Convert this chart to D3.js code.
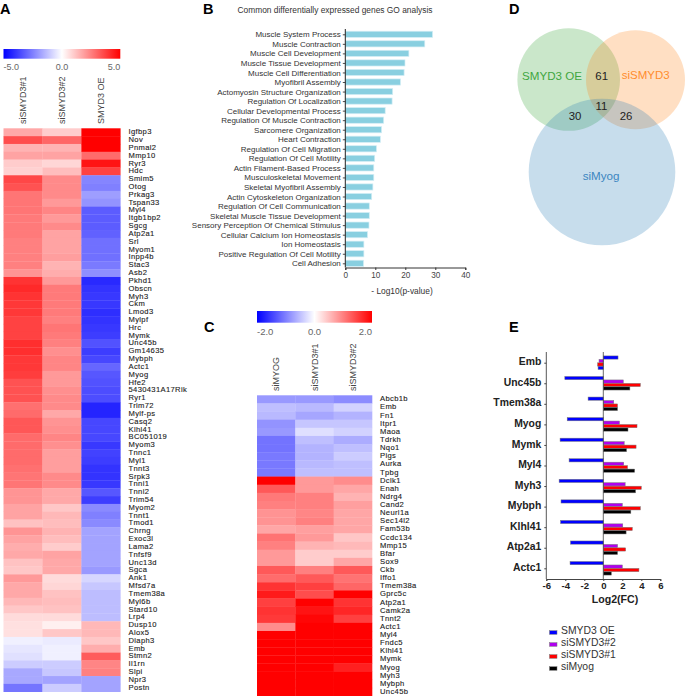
<!DOCTYPE html>
<html><head><meta charset="utf-8">
<script src="https://d3js.org/d3.v7.min.js"></script>
<style>
html,body{margin:0;padding:0;background:#fff}
svg{display:block}
text{font-family:"Liberation Sans",Arial,sans-serif}
</style></head><body>
<svg id="c" width="685" height="696"></svg>
<script>
// ---------- Panel A ----------
const aSamples = ["siSMYD3#1","siSMYD3#2","SMYD3 OE"];
const aGenes = ["Igfbp3","Nov","Pnmal2","Mmp10","Ryr3","Hdc","Smim5","Otog","Prkag3","Tspan33","Myl4","Itgb1bp2","Sgcg","Atp2a1","Srl","Myom1","Inpp4b","Stac3","Asb2","Pkhd1","Obscn","Myh3","Ckm","Lmod3","Mylpf","Hrc","Mymk","Unc45b","Gm14635","Mybph","Actc1","Myog","Hfe2","5430431A17Rik","Ryr1","Trim72","Mylf-ps","Casq2","Klhl41","BC051019","Myom3","Tnnc1","Myl1","Tnnt3","Srpk3","Tnni1","Tnni2","Trim54","Myom2","Tnnt1","Tmod1","Chrng","Exoc3l","Lama2","Tnfsf9","Unc13d","Sgca","Ank1","Mfsd7a","Tmem38a","Myl6b","Stard10","Lrp4","Dusp10","Alox5","Diaph3","Emb","Stmn2","Il1rn","Slpi","Npr3","Postn"];
const aCol1 = [1.7,3.5,1.5,1.8,1,0.9,3.6,3.4,2.7,2.7,2.7,2.6,2.6,2.6,2.5,2.5,2.5,2.5,2.1,4,4.2,4,3.9,3.9,3.7,3.7,3.7,4.1,4.1,3.9,3.9,3.8,3.4,3.4,3.4,2.8,2.9,3.3,3.3,2.9,2.9,2.9,2.9,2.8,2.7,2.7,2.1,2.1,1.8,1.8,1.2,2.1,1.8,1.6,1.7,1.2,1.1,2,1.7,1.7,1.4,1.1,0.7,0.6,0.6,-0.3,-0.5,-0.6,-1,-1.7,-1.7,-2.7];
const aCol2 = [1,3,1.5,1.8,0.8,1.3,2.3,2.3,2.3,2,2.4,2,2.3,1.8,1.8,1.8,1.9,1.5,1.6,2,2.6,2.6,2.6,2.6,2.5,2.7,2.6,2.5,2.2,2.4,2.4,2,2,2.2,2.3,2.3,1.7,2.1,2.2,2.4,2.2,1.9,1.9,1.9,2.3,2.3,1.7,1.7,1.1,1.4,1.3,1.5,1.3,1,1.8,1.7,1.7,0.7,0.8,1.2,1.3,1.2,0.7,0.3,1.1,-0.4,-0.3,-0.3,-1,-1.1,-1.8,-1];
const aCol3 = [5,5,5,2.9,4.6,3.7,-2.4,-2.5,-1.9,-2.1,-3.2,-3.2,-3.2,-3.1,-2.8,-2.8,-2.8,-2.6,-2.2,-4.2,-4,-3.9,-3.9,-4.1,-4,-3.9,-3.8,-3.4,-3.8,-3.6,-3,-3.3,-3.4,-3.5,-3.5,-4.3,-4.3,-3.6,-3.6,-3.6,-3.9,-3.7,-3.8,-4,-4,-3.9,-3.3,-3.8,-2.3,-2.5,-2.3,-1.8,-1.8,-1.8,-1.8,-1.8,-2,-0.8,-1.1,-1.3,-1.3,-1.3,-1.3,1.4,1.4,1.1,1.6,3.2,2.4,2.5,-1.8,-1.8];
const aTicks = ["-5.0","0.0","5.0"];

// ---------- Panel B ----------
const bTerms = ["Muscle System Process","Muscle Contraction","Muscle Cell Development","Muscle Tissue Development","Muscle Cell Differentiation","Myofibril Assembly","Actomyosin Structure Organization","Regulation Of Localization","Cellular Developmental Process","Regulation Of Muscle Contraction","Sarcomere Organization","Heart Contraction","Regulation Of Cell Migration","Regulation Of Cell Motility","Actin Filament-Based Process","Musculoskeletal Movement","Skeletal Myofibril Assembly","Actin Cytoskeleton Organization","Regulation Of Cell Communication","Skeletal Muscle Tissue Development","Sensory Perception Of Chemical Stimulus","Cellular Calcium Ion Homeostasis","Ion Homeostasis","Positive Regulation Of Cell Motility","Cell Adhesion"];
const bValues = [29.1,26.5,21.2,19.9,19.6,18.4,15.8,15.6,13.3,12.8,12.1,11.7,10.4,9.8,9.5,9.5,9.2,8.8,8,8,7.9,7.4,6.2,6.2,6.1];
const bTicks = [0,10,20,30,40];

// ---------- Panel C ----------
const cSamples = ["siMYOG","siSMYD3#1","siSMYD3#2"];
const cGenes = ["Abcb1b","Emb","Fn1","Itpr1","Maoa","Tdrkh","Nqo1","Pigs","Aurka","Tpbg","Dclk1","Enah","Ndrg4","Cand2","Neurl1a","Sec14l2","Fam53b","Ccdc134","Mmp15","Bfar","Sox9","Ckb","Iffo1","Tmem38a","Gprc5c","Atp2a1","Camk2a","Tnnt2","Actc1","Myl4","Fndc5","Klhl41","Mymk","Myog","Myh3","Mybph","Unc45b"];
const cCol1 = [-0.8,-0.5,-0.55,-0.85,-0.8,-1.1,-1.1,-1.05,-1.05,-1.05,2,1.3,1.05,1,0.85,0.85,0.7,1.1,1,0.8,0.8,1.3,1.15,1.6,1.8,1.5,1.6,1.55,0.9,2,2,2,2,2,2,2,2];
const cCol2 = [-0.8,-0.55,-0.7,-0.45,-0.25,-0.5,-0.6,-0.6,-0.55,-0.5,0.8,0.8,1,1,0.95,1,0.75,0.8,0.6,0.4,0.4,1,1.3,1.5,1.4,2,1.85,1.95,2,2,2,2,2,2,2,2,2];
const cCol3 = [-0.9,-0.35,-0.6,-0.45,-0.35,-0.65,-0.5,-0.4,-0.5,-0.5,0.9,0.7,0.6,0.75,0.7,0.7,0.7,0.45,0.55,0.4,0.7,1.3,1.1,1.2,2,1.6,1.7,1.5,2,2,2,2,2,1.75,2,2,2];
const cTicks = ["-2.0","0.0","2.0"];

// ---------- Panel D ----------
const dSets = ["SMYD3 OE","siSMYD3","siMyog"];
const dCounts = ["61","11","30","26"];

// ---------- Panel E ----------
const eGenes = ["Emb","Unc45b","Tmem38a","Myog","Mymk","Myl4","Myh3","Mybph","Klhl41","Atp2a1","Actc1"];
const eSeries = ["SMYD3 OE","siSMYD3#2","siSMYD3#1","siMyog"];
const eOE   = [1.55,-4.05,-1.6,-3.8,-4.55,-3.6,-4.65,-4.45,-4.5,-3.45,-3.5];
const eSi2  = [-0.45,2.1,1.1,1.7,2.2,2.15,2.3,2,2.05,1.5,2];
const eSi1  = [-0.6,3.9,1.5,3.55,3.45,2.55,4,3.9,3.05,2.35,3.75];
const eMyog = [-0.55,2.8,1.5,2.6,2.45,3.3,3.4,2.9,2.4,1.5,0.85];
const eTicks = [-6,-4,-2,0,2,4,6];

const svg = d3.select("#c");

// panel letters
const letters = [["A",0,13.5],["B",203,13.5],["C",204,332],["D",509,13.5],["E",509,332]];
svg.selectAll("text.letter").data(letters).join("text").attr("class","letter")
  .attr("x",d=>d[1]).attr("y",d=>d[2]).attr("font-size",14.5).attr("font-weight","bold").attr("fill","#000").text(d=>d[0]);

function heat(opts){
  const {samples,genes,cols,max,ticks,x0,x1,barY,barH,tickY,colLabelBottom,top,bottom,labelX,idKey,labelSize} = opts;
  const g = svg.append("g");
  const color = d3.scaleLinear().domain([-max,0,max]).range(["#0000ff","#ffffff","#ff0000"]).clamp(true);
  const x = d3.scaleBand().domain(samples).range([x0,x1]);
  const y = d3.scaleBand().domain(genes).range([top,bottom]);
  // colour bar
  const grad = svg.append("defs").append("linearGradient").attr("id",idKey);
  [0,.5,1].forEach(t=>grad.append("stop").attr("offset",t).attr("stop-color",color(-max+2*max*t)));
  g.append("rect").attr("x",x0).attr("y",barY).attr("width",x1-x0).attr("height",barH).attr("fill",`url(#${idKey})`);
  const tx = d3.scalePoint().domain(ticks).range([x0,x1]);
  g.selectAll("text.t").data(ticks).join("text")
    .attr("x",d=>tx(d)).attr("y",tickY).attr("text-anchor",(d,i)=>i==0?"start":i==2?"end":"middle")
    .attr("dominant-baseline","middle").attr("font-size",opts.tickSize).attr("fill","#666").text(d=>d);
  // column labels
  g.selectAll("text.s").data(samples).join("text")
    .attr("transform",d=>`translate(${x(d)+x.bandwidth()/2+3},${colLabelBottom}) rotate(-90)`)
    .attr("font-size",opts.colSize).attr("fill","#444").text(d=>d);
  // cells
  cols.forEach((col,j)=>{
    g.append("g").selectAll("rect").data(col).join("rect")
      .attr("x",x(samples[j])).attr("width",x.bandwidth()+0.3)
      .attr("y",(d,i)=>y(genes[i])).attr("height",y.bandwidth()+0.3)
      .attr("fill",d=>color(d));
  });
  // row labels
  g.selectAll("text.g").data(genes).join("text")
    .attr("x",labelX).attr("y",d=>y(d)+y.bandwidth()/2).attr("dominant-baseline","middle")
    .attr("font-size",labelSize).attr("letter-spacing",0.35).attr("fill","#222")
    .attr("stroke","#222").attr("stroke-width",0.12).text(d=>d);
}
heat({samples:aSamples,genes:aGenes,cols:[aCol1,aCol2,aCol3],max:5,ticks:aTicks,x0:3.5,x1:120.3,barY:49,barH:9.7,tickY:67.5,colLabelBottom:124,top:128.3,bottom:691.7,labelX:128.5,idKey:"ga",labelSize:7.6,tickSize:9,colSize:9});
heat({samples:cSamples,genes:cGenes,cols:[cCol1,cCol2,cCol3],max:2,ticks:cTicks,x0:257,x1:372,barY:311,barH:11.7,tickY:332,colLabelBottom:391,top:395.3,bottom:696,labelX:380,idKey:"gc",labelSize:7.6,tickSize:9.5,colSize:9});

// ---------- B drawing ----------
{
  const x = d3.scaleLinear().domain([0,40]).range([345.3,465.3]);
  const y = d3.scalePoint().domain(bTerms).range([34.3,263.3]);
  const g = svg.append("g");
  g.append("text").attr("x",335).attr("y",13).attr("text-anchor","middle").attr("font-size",8.4).attr("fill","#333").text("Common differentially expressed genes GO analysis");
  g.selectAll("rect").data(bValues).join("rect")
    .attr("x",x(0)).attr("y",(d,i)=>y(bTerms[i])-3.1).attr("width",d=>x(d)-x(0)).attr("height",6.2)
    .attr("fill","#89cfe0").attr("stroke","#d5eef5").attr("stroke-width",0.7);
  const ya = d3.axisLeft(y).tickSize(2.5).tickPadding(2);
  const yg = g.append("g").attr("transform",`translate(${x(0)},0)`).call(ya);
  yg.select(".domain").remove();
  yg.selectAll("line").attr("stroke","#222").attr("stroke-width",0.8);
  yg.selectAll("text").attr("font-size",8).attr("fill","#333").attr("font-family","Liberation Sans");
  g.append("line").attr("x1",x(0)).attr("x2",x(0)).attr("y1",29).attr("y2",267.5).attr("stroke","#222").attr("stroke-width",1);
  const xa = d3.axisBottom(x).tickValues(bTicks).tickSize(2.5).tickPadding(2);
  const xg = g.append("g").attr("transform","translate(0,267.5)").call(xa);
  xg.select(".domain").attr("stroke","#333");
  xg.selectAll("line").attr("stroke","#333");
  xg.selectAll("text").attr("font-size",8.2).attr("fill","#444").attr("font-family","Liberation Sans");
  g.append("text").attr("x",402).attr("y",294).attr("text-anchor","middle").attr("font-size",8.4).attr("fill","#333").text("- Log10(p-value)");
}

// ---------- D drawing ----------
{
  const g = svg.append("g");
  const circles = [
    {i:0,cx:568.7,cy:79.5,r:51.3,c:"#2ca02c",tx:552,ty:76.5,tc:"#3fa63f",fs:11.6},
    {i:1,cx:635.5,cy:79.7,r:49.5,c:"#ff7f0e",tx:645.7,ty:75.5,tc:"#ff8c2e",fs:11.5},
    {i:2,cx:602,cy:172,r:73.3,c:"#1f77b4",tx:601,ty:177,tc:"#3b86c0",fs:11.6}];
  g.selectAll("circle").data(circles).join("circle")
    .attr("cx",d=>d.cx).attr("cy",d=>d.cy).attr("r",d=>d.r).attr("fill",d=>d.c).attr("fill-opacity",0.25);
  g.selectAll("text.n").data(circles).join("text").attr("x",d=>d.tx).attr("y",d=>d.ty)
    .attr("text-anchor","middle").attr("dominant-baseline","middle").attr("font-size",d=>d.fs).attr("fill",d=>d.tc).text(d=>dSets[d.i]);
  const pos = [[601.7,76.5],[601.5,107],[575,116.5],[626,116.5]];
  g.selectAll("text.c").data(dCounts).join("text").attr("x",(d,i)=>pos[i][0]).attr("y",(d,i)=>pos[i][1])
    .attr("text-anchor","middle").attr("dominant-baseline","middle").attr("font-size",11.4).attr("fill","#222").text(d=>d);
}

// ---------- E drawing ----------
{
  const g = svg.append("g");
  const x = d3.scaleLinear().domain([-6,6]).range([546.3,660.3]);
  const y = d3.scalePoint().domain(eGenes).range([362.7,568.3]);
  const colors = ["#0000ff","#b000f0","#ff0000","#000000"];
  const vals = [eOE,eSi2,eSi1,eMyog];
  vals.forEach((v,s)=>{
    g.append("g").selectAll("rect").data(v).join("rect")
      .attr("x",d=>Math.min(x(0),x(d))).attr("width",d=>Math.abs(x(d)-x(0)))
      .attr("y",(d,i)=>y(eGenes[i])+(s-1.5)*3.45-1.6).attr("height",3.2)
      // the picture draws the last Emb bar in blue
      .attr("fill",(d,i)=>(s===3&&i===0)?colors[0]:colors[s]).attr("stroke","#777").attr("stroke-width",0.5);
  });
  g.append("line").attr("x1",x(0)).attr("x2",x(0)).attr("y1",352).attr("y2",579).attr("stroke","#444").attr("stroke-width",0.8);
  const ya = d3.axisLeft(y).tickSize(2).tickPadding(3);
  const yg = g.append("g").attr("transform",`translate(${x(-6)},0)`).call(ya);
  yg.select(".domain").remove();
  yg.selectAll("line").attr("stroke","#444");
  yg.selectAll("text").attr("font-size",10.4).attr("font-weight","bold").attr("fill","#222").attr("font-family","Liberation Sans").attr("dy","0.2em");
  g.append("line").attr("x1",x(-6)).attr("x2",x(-6)).attr("y1",352).attr("y2",579).attr("stroke","#444").attr("stroke-width",0.9);
  const xa = d3.axisBottom(x).tickValues(eTicks).tickSize(2).tickPadding(1.5).tickFormat(d=>d);
  const xg = g.append("g").attr("transform","translate(0,579)").call(xa);
  xg.select(".domain").attr("stroke","#444");
  xg.selectAll("line").attr("stroke","#444");
  xg.selectAll("text").attr("font-size",9.6).attr("font-weight","bold").attr("fill","#222").attr("font-family","Liberation Sans");
  g.append("text").attr("x",615).attr("y",603).attr("text-anchor","middle").attr("font-size",10.6).attr("font-weight","bold").attr("fill","#222").text("Log2(FC)");
  const ly = d3.scalePoint().domain(eSeries).range([632.5,668.5]);
  g.selectAll("rect.l").data(eSeries).join("rect").attr("class","l")
    .attr("x",549.5).attr("width",7.5).attr("y",d=>ly(d)-1.8).attr("height",3.6)
    .attr("fill",(d,i)=>colors[i]).attr("stroke","#777").attr("stroke-width",0.5);
  g.selectAll("text.l").data(eSeries).join("text").attr("class","l")
    .attr("x",561).attr("y",d=>ly(d)-1).attr("dominant-baseline","middle").attr("font-size",10.4).attr("fill","#333").text(d=>d);
}
</script>
</body></html>
